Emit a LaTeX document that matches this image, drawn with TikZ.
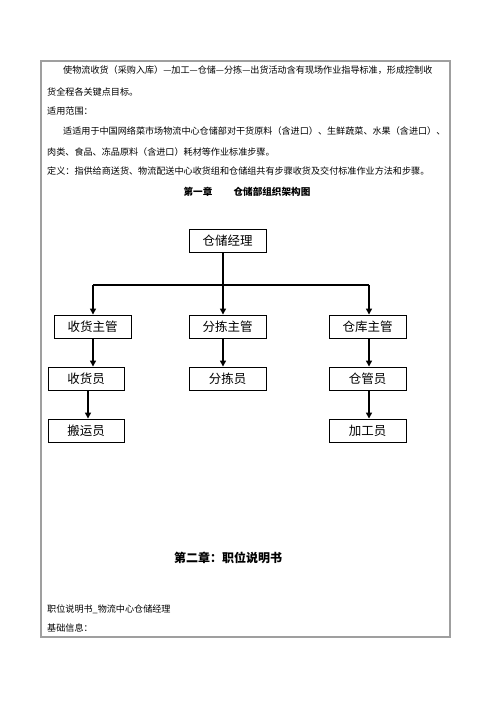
\documentclass[tikz,border=0pt]{standalone}
\usepackage{fontspec}
\setmainfont{Noto Sans CJK SC}
\usetikzlibrary{arrows.meta}
\tikzset{
  txt/.style={anchor=west, inner sep=0pt, font=\fontsize{9.1}{11}\selectfont},
  ttl/.style={anchor=center, inner sep=0pt, font=\bfseries\fontsize{9.6}{11}\selectfont},
  orgbox/.style={draw, line width=0.9pt, minimum width=77pt, minimum height=23pt, inner sep=0pt, font=\fontsize{12.5}{14}\selectfont},
  arr/.style={line width=1.3pt, -{Triangle[length=6pt,width=6pt]}},
  ln/.style={line width=1.3pt}
}
\begin{document}
\begin{tikzpicture}[x=1pt,y=-1pt]
\useasboundingbox (0,0) rectangle (500,707);
\draw[gray!75, line width=1.5pt] (41,61) rectangle (450,637);
% paragraph text
\node[txt] (l1) at (63,70) {使物流收货（采购入库）—加工—仓储—分拣—出货活动含有现场作业指导标准，形成控制收};
\node[txt] (l2) at (47,92) {货全程各关键点目标。};
\node[txt] (l3) at (47,111) {适用范围：};
\node[txt] (l4) at (63,131) {适适用于中国网络菜市场物流中心仓储部对干货原料（含进口）、生鲜蔬菜、水果（含进口）、};
\node[txt] (l5) at (47,152) {肉类、食品、冻品原料（含进口）耗材等作业标准步骤。};
\node[txt] (l6) at (47,171) {定义：指供给商送货、物流配送中心收货组和仓储组共有步骤收货及交付标准作业方法和步骤。};
\node[ttl] (t1) at (247,192) {第一章\hspace{2.2em}仓储部组织架构图};
% org chart
\node[orgbox] (m) at (227.5,240.5) {仓储经理};
\node[orgbox] (s1) at (92.5,326.5) {收货主管};
\node[orgbox] (s2) at (227.5,326.5) {分拣主管};
\node[orgbox] (s3) at (367.5,326.5) {仓库主管};
\node[orgbox, minimum width=76pt] (r1) at (86,378.5) {收货员};
\node[orgbox] (r2) at (227.5,378.5) {分拣员};
\node[orgbox] (r3) at (367.5,378.5) {仓管员};
\node[orgbox, minimum width=76pt] (q1) at (86,430.5) {搬运员};
\node[orgbox] (q3) at (367.5,430.5) {加工员};
\coordinate (jl) at (93,285);
\coordinate (jr) at (369,285);
\draw[ln] (jl) -- (jr);
\draw[arr] ([xshift=-4.5pt]m.south) -- ([xshift=-4.5pt]s2.north);
\draw[arr] (jl) -- (jl |- s1.north);
\draw[arr] (jr) -- (jr |- s3.north);
\draw[arr] ([xshift=0.5pt]s1.south) -- ([xshift=0.5pt]s1.south |- r1.north);
\draw[arr] ([xshift=-4.5pt]s2.south) -- ([xshift=-4.5pt]r2.north);
\draw[arr] ([xshift=1.5pt]s3.south) -- ([xshift=1.5pt]r3.north);
\draw[arr] ([xshift=2pt]r1.south) -- ([xshift=2pt]q1.north);
\draw[arr] ([xshift=1.5pt]r3.south) -- ([xshift=1.5pt]q3.north);
% chapter 2
\node[ttl, font=\bfseries\fontsize{12}{14}\selectfont] (t2) at (228,558) {第二章：职位说明书};
\node[txt] (b1) at (47,609) {职位说明书\_物流中心仓储经理};
\node[txt] (b2) at (47,628) {基础信息：};
\end{tikzpicture}
\end{document}
